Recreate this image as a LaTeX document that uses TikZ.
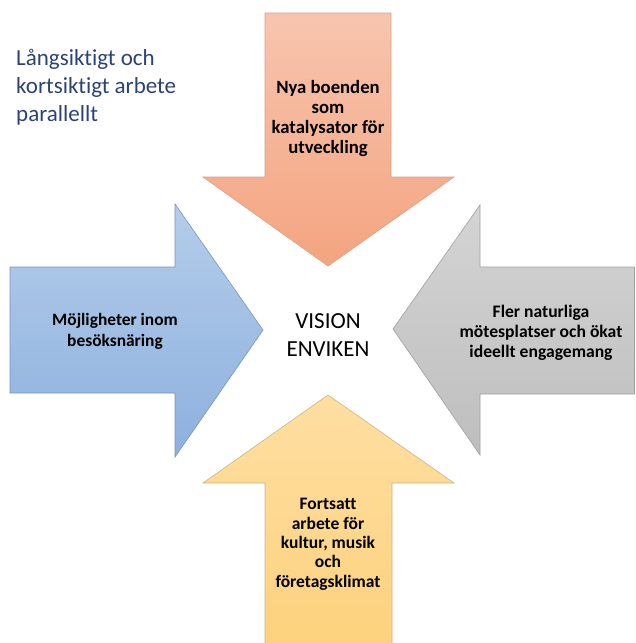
\documentclass[tikz,border=0pt]{standalone}
\usepackage{fontspec}
\setmainfont[Ligatures=NoCommon]{Carlito}
\definecolor{titleblue}{RGB}{44,66,118}
\definecolor{salmonT}{RGB}{247,197,174}
\definecolor{salmonB}{RGB}{244,164,128}
\definecolor{salmonD}{RGB}{214,160,136}
\definecolor{blueT}{RGB}{180,205,234}
\definecolor{blueB}{RGB}{141,176,222}
\definecolor{blueD}{RGB}{120,148,186}
\definecolor{greyT}{RGB}{212,212,212}
\definecolor{greyB}{RGB}{190,190,190}
\definecolor{greyD}{RGB}{160,160,160}
\definecolor{yelT}{RGB}{254,223,162}
\definecolor{yelB}{RGB}{253,209,125}
\definecolor{yelD}{RGB}{205,180,128}
\tikzset{
  arrowshape/.style={line width=0.6pt, line join=miter},
  arrowlabel/.style={align=center, inner sep=0pt, anchor=base, text=black},
  centerlabel/.style={align=center, inner sep=0pt, anchor=base, font=\fontsize{23}{28}\selectfont, text=black},
  titlelabel/.style={align=left, inner sep=0pt, anchor=base west, font=\fontsize{23}{28}\selectfont, text=titleblue}
}
\begin{document}
\begin{tikzpicture}[x=1pt,y=-1pt]
\useasboundingbox (0,0) rectangle (635,643);
% top arrow (pointing down)
\shade[arrowshape, draw=salmonD, top color=salmonT, bottom color=salmonB]
  (265,13) -- (391,13) -- (391,177) -- (454,177) -- (328,266) -- (203,177) -- (265,177) -- cycle;
% left arrow (pointing right)
\shade[arrowshape, draw=blueD, top color=blueT, bottom color=blueB]
  (10,267) -- (175,267) -- (175,204) -- (263,330) -- (175,457) -- (175,393) -- (10,393) -- cycle;
% right arrow (pointing left)
\shade[arrowshape, draw=greyD, top color=greyT, bottom color=greyB]
  (634.5,267) -- (480,267) -- (480,205) -- (393,329) -- (480,455) -- (480,394) -- (634.5,394) -- cycle;
% bottom arrow (pointing up)
\shade[arrowshape, draw=yelD, top color=yelT, bottom color=yelB]
  (265,650) -- (265,483) -- (203,483) -- (328,395) -- (454,483) -- (392,483) -- (392,650) -- cycle;

\node[titlelabel] (title) at (16,121)
  {Långsiktigt och\\kortsiktigt arbete\\parallellt};
\node[arrowlabel, font=\fontsize{18.7}{20}\selectfont\bfseries] (top) at (328,153)
  {Nya boenden\\som\\katalysator för\\utveckling};
\node[arrowlabel, font=\fontsize{17.4}{20.7}\selectfont\bfseries] (left) at (115,346)
  {Möjligheter inom\\besöksnäring};
\node[arrowlabel, font=\fontsize{17.6}{20}\selectfont\bfseries] (right) at (541,357)
  {Fler naturliga\\mötesplatser och ökat\\ideellt engagemang};
\node[arrowlabel, font=\fontsize{17.5}{19.3}\selectfont\bfseries] (bottom) at (328,587)
  {Fortsatt\\arbete för\\kultur, musik\\och\\företagsklimat};
\node[centerlabel] (vision) at (328,356) {VISION\\ENVIKEN};
\end{tikzpicture}
\end{document}
